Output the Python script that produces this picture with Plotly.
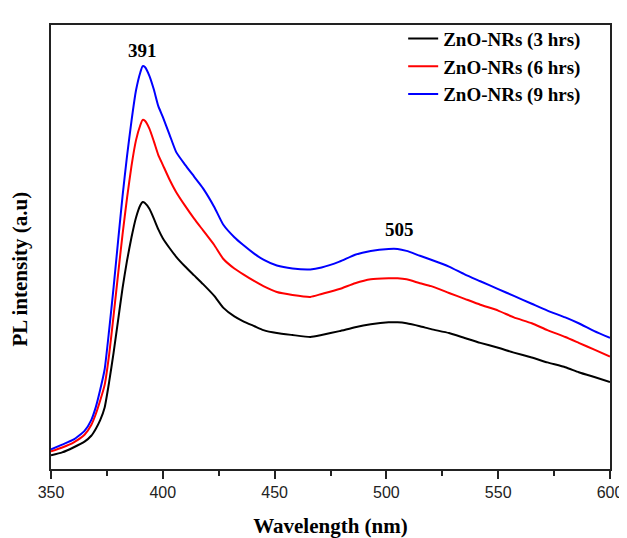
import plotly.graph_objects as go

wavelength = [350, 355, 360, 365, 368, 370, 372, 374, 376, 378, 380, 382, 384, 386, 388, 390, 391, 392,
              394, 396, 398, 400, 403, 406, 410, 414, 418, 423, 427, 432, 436, 441, 445, 451, 458, 466,
              471, 479, 486, 493, 501, 505, 509, 515, 520, 528, 535, 542, 550, 557, 565, 572, 580, 586,
              593, 600]

pl_3hrs = [14, 17, 22, 28, 34, 41, 50, 63, 89, 119, 152, 185, 213, 237, 257, 270, 273, 272, 266, 256,
           245, 236, 226, 217, 207, 198, 189, 177, 165, 156, 151, 146, 142, 139, 137, 135, 137, 141, 145, 148,
           150, 150, 149, 146, 143, 139, 134, 129, 124, 119, 114, 109, 104, 99, 94, 89]

pl_6hrs = [18, 22, 27, 35, 45, 56, 70, 86, 117, 157, 199, 240, 277, 310, 336, 352, 357, 356, 348, 335,
           321, 311, 296, 283, 269, 256, 244, 229, 215, 205, 199, 192, 187, 181, 178, 176, 179, 184, 190, 194,
           195, 195, 194, 190, 187, 180, 174, 168, 162, 155, 149, 142, 135, 129, 122, 115]

pl_9hrs = [20, 25, 30, 39, 50, 63, 81, 102, 142, 186, 233, 279, 320, 356, 387, 406, 412, 411, 402, 388,
           371, 360, 342, 324, 311, 299, 287, 268, 250, 237, 229, 220, 214, 208, 205, 204, 206, 212, 219, 223,
           225, 225, 223, 218, 214, 207, 199, 192, 184, 177, 169, 162, 155, 149, 141, 134]

series_names = ["ZnO-NRs (3 hrs)", "ZnO-NRs (6 hrs)", "ZnO-NRs (9 hrs)"]
series_colors = ["#000000", "#ff0000", "#0000ff"]
peak_labels = [(391, 412, "391", 16), (506, 225, "505", 19)]

serif = "Liberation Serif, Times New Roman, serif"
sans = "Liberation Sans, Arial, sans-serif"

fig = go.Figure()
for name, vals, col in zip(series_names, [pl_3hrs, pl_6hrs, pl_9hrs], series_colors):
    fig.add_trace(go.Scatter(x=wavelength, y=vals, mode="lines", name="<b>%s</b>" % name,
                             line=dict(color=col, width=2, shape="spline", smoothing=0.5)))

for xv, yv, txt, ys in peak_labels:
    fig.add_annotation(x=xv, y=yv, text="<b>%s</b>" % txt, showarrow=False, yshift=ys,
                       font=dict(family=serif, size=19, color="#000"))

fig.add_annotation(xref="paper", yref="paper", x=-0.055, y=0.45, text="<b>PL intensity (a.u)</b>",
                   textangle=-90, showarrow=False, xanchor="center", yanchor="middle",
                   font=dict(family=serif, size=21, color="#000"))

fig.update_layout(
    width=627, height=538,
    margin=dict(l=43, r=15, t=12, b=71),
    paper_bgcolor="white", plot_bgcolor="white",
    showlegend=True,
    legend=dict(x=0.63, y=1.012, xanchor="left", yanchor="top", bgcolor="rgba(0,0,0,0)",
                font=dict(family=serif, size=19, color="#000"), tracegroupgap=0),
    xaxis=dict(range=[350, 600], dtick=50, tick0=350, ticks="outside", ticklen=8, tickwidth=1.5,
               tickcolor="#222", showline=True, linecolor="#222", linewidth=1.5, mirror=True,
               showgrid=False, zeroline=False,
               tickfont=dict(family=sans, size=16, color="#222"),
               minor=dict(dtick=25, ticks="outside", ticklen=5, tickwidth=1.5, tickcolor="#222", showgrid=False),
               title=dict(text="<b>Wavelength (nm)</b>", font=dict(family=serif, size=21, color="#000"),
                          standoff=18)),
    yaxis=dict(range=[0, 454], showticklabels=False, ticks="", showline=True, linecolor="#222",
               linewidth=1.5, mirror=True, showgrid=False, zeroline=False),
)

fig.write_html("out.html")
